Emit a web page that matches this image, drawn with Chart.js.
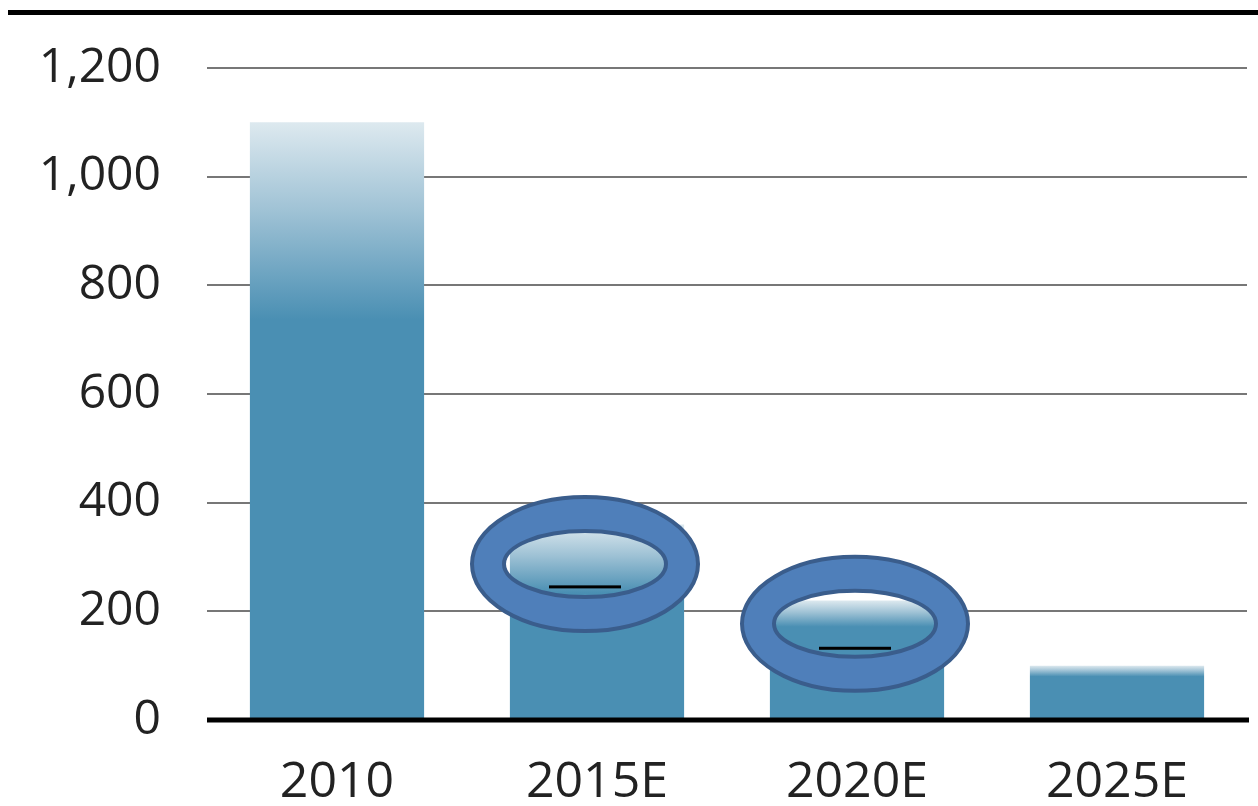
<!DOCTYPE html>
<html>
<head>
<meta charset="utf-8">
<script src="https://cdn.jsdelivr.net/npm/chart.js@4/dist/chart.umd.min.js"></script>
<style>
  html, body { margin: 0; padding: 0; background: #fff; }
  #wrap { width: 1258px; height: 806px; }
</style>
</head>
<body>
<div id="wrap"><canvas id="canvas" width="1258" height="806"></canvas></div>
<script>
// bar values per year
var categories = ['2010', '2015E', '2020E', '2025E'];
var values = [1100, 360, 220, 100];
var yTicks = [0, 200, 400, 600, 800, 1000, 1200];

// highlight rings (value units) and the short marker line inside them
var ringCenters = [null, 287, 177, null];
var markValues = [null, 245, 132, null];

// ring styling: horizontal nudge from the bar centre, in px
var ringShift = [0, -12, -2, 0];

// how far down each bar the light top fades into the base colour
var fadeFrac = [0.33, 0.35, 0.22, 0.2];

var barDark = '#4a8fb3';
var barLight = '#dde9ef';
var fontFamily = "'Open Sans', 'Noto Sans', sans-serif";

function barFill(ctx) {
  var chart = ctx.chart;
  var y = chart.scales.y;
  if (!chart.chartArea || !y || ctx.dataIndex === undefined) return barDark;
  var top = y.getPixelForValue(values[ctx.dataIndex]);
  var base = y.getPixelForValue(0);
  var fade = top + (base - top) * fadeFrac[ctx.dataIndex];
  var g = chart.ctx.createLinearGradient(0, top, 0, fade);
  g.addColorStop(0, barLight);
  g.addColorStop(0.45, '#9fc2d5');
  g.addColorStop(1, barDark);
  return g;
}

var overlays = {
  id: 'overlays',
  afterDatasetsDraw: function(chart) {
    var c = chart.ctx, area = chart.chartArea;
    var x = chart.scales.x, y = chart.scales.y;

    // heavy rule along the top of the figure
    c.save();
    c.fillStyle = '#000';
    c.fillRect(8, 10, chart.width - 8, 5);

    // zero baseline
    var y0 = y.getPixelForValue(0);
    c.fillRect(area.left, y0 - 2.5, area.right - area.left + 2, 5);

    // rings around the forecast bars
    for (var i = 0; i < categories.length; i++) {
      if (ringCenters[i] == null) continue;
      var cx = x.getPixelForValue(i) + ringShift[i];
      var cy = y.getPixelForValue(ringCenters[i]);
      c.beginPath();
      c.ellipse(cx, cy, 113, 67, 0, 0, Math.PI * 2);
      c.ellipse(cx, cy, 81, 33, 0, 0, Math.PI * 2);
      c.fillStyle = '#4f7fba';
      c.fill('evenodd');
      c.lineWidth = 4;
      c.strokeStyle = '#3a5d8c';
      c.beginPath();
      c.ellipse(cx, cy, 113, 67, 0, 0, Math.PI * 2);
      c.stroke();
      c.beginPath();
      c.ellipse(cx, cy, 81, 33, 0, 0, Math.PI * 2);
      c.stroke();

      var my = y.getPixelForValue(markValues[i]);
      c.fillStyle = '#000';
      c.fillRect(cx - 36, my - 1.5, 72, 3);
    }
    c.restore();
  }
};

new Chart(document.getElementById('canvas'), {
  type: 'bar',
  data: {
    labels: categories,
    datasets: [{
      data: values,
      backgroundColor: barFill,
      borderWidth: 0,
      barPercentage: 0.67,
      categoryPercentage: 1
    }]
  },
  options: {
    responsive: false,
    animation: false,
    devicePixelRatio: 1,
    layout: { padding: { top: 68, right: 11, left: 0, bottom: 0 } },
    plugins: { legend: { display: false }, tooltip: { enabled: false } },
    scales: {
      x: {
        grid: { display: false, drawTicks: false },
        border: { display: false },
        ticks: {
          color: '#222',
          padding: 33,
          font: { family: fontFamily, size: 50 }
        },
        afterFit: function(s) { s.height = 86; }
      },
      y: {
        min: 0,
        max: 1200,
        afterBuildTicks: function(s) {
          s.ticks = yTicks.map(function(v) { return { value: v }; });
        },
        grid: {
          drawTicks: false,
          color: function(ctx) { return ctx.tick && ctx.tick.value === 0 ? 'rgba(0,0,0,0)' : '#777'; },
          lineWidth: 2
        },
        border: { display: false },
        ticks: {
          color: '#222',
          padding: 46,
          font: { family: fontFamily, size: 48 },
          callback: function(v) { return v.toLocaleString('en-US'); }
        },
        afterFit: function(s) {
          s.width = 207;
          s.paddingTop = 0;
          s.paddingBottom = 0;
        }
      }
    }
  },
  plugins: [overlays]
});
</script>
</body>
</html>
